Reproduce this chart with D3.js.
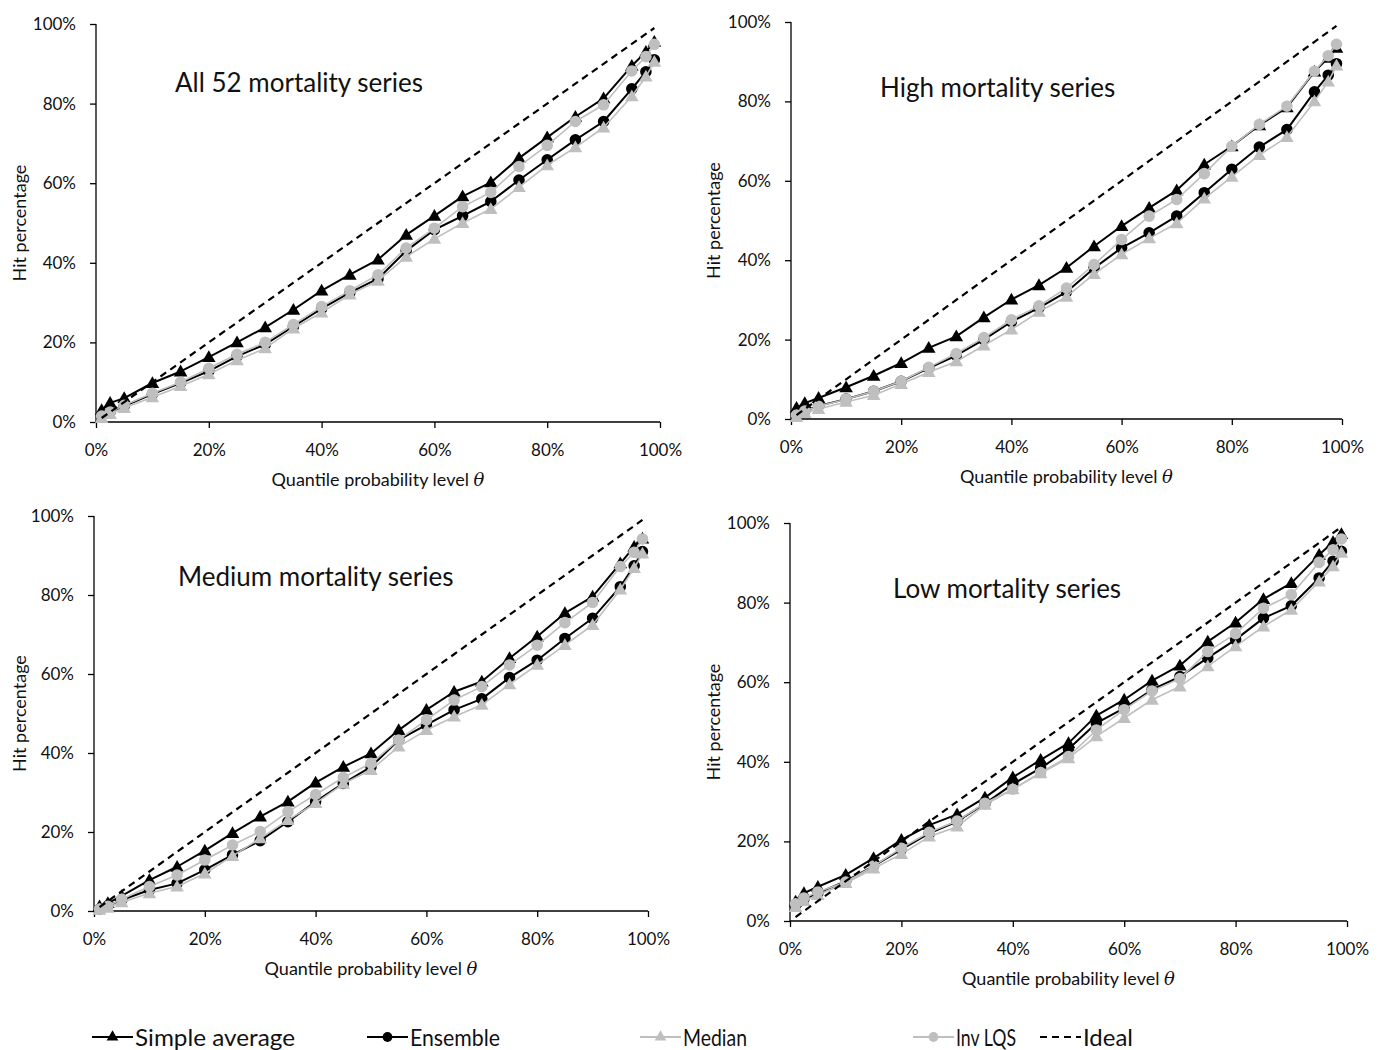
<!DOCTYPE html>
<html><head><meta charset="utf-8">
<script src="https://cdn.jsdelivr.net/npm/d3@7"></script>
<style>
body{margin:0;background:#fff;}
svg{display:block;font-family:Lato,"Open Sans",sans-serif;}
</style></head>
<body><svg id="c" width="1386" height="1050"></svg>
<script>
const theta = [1, 2.5, 5, 10, 15, 20, 25, 30, 35, 40, 45, 50, 55, 60, 65, 70, 75, 80, 85, 90, 95, 97.5, 99];
const xTicks = [0, 20, 40, 60, 80, 100];
const yTicks = [0, 20, 40, 60, 80, 100];
const seriesNames = ["Simple average", "Ensemble", "Median", "Inv LQS", "Ideal"];
const panelTitles = ["All 52 mortality series", "High mortality series", "Medium mortality series", "Low mortality series"];

// All 52 mortality series
const allSimple   = [3, 4.8, 6, 9.8, 12.7, 16.3, 20, 23.8, 28.2, 33, 37, 40.8, 47, 51.8, 56.7, 60.2, 66.3, 71.5, 76.7, 81.3, 89.5, 93, 95.5];
const allEnsemble = [1.5, 2.5, 4, 7, 9.8, 12.8, 16.5, 19.5, 24, 28.5, 32.5, 36, 43, 48.3, 51.8, 55.4, 60.8, 65.9, 70.9, 75.5, 83.7, 88, 91];
const allMedian   = [1, 2, 3.5, 6.2, 9, 12, 15.5, 18.5, 23.5, 27.5, 32, 35.5, 41.5, 46, 50, 53.5, 59, 64.5, 69, 74, 81.8, 86.8, 90.5];
const allInvLQS   = [1.5, 2.5, 4.2, 7.2, 10, 13.5, 17, 20, 24.5, 29, 33, 37, 43.7, 48.7, 54.1, 57.7, 64.2, 69.5, 75.5, 79.7, 88.2, 91.8, 94.9];

// High mortality series
const highSimple   = [2.8, 4, 5.3, 8, 10.9, 14.1, 17.9, 20.8, 25.6, 30.1, 33.7, 38.1, 43.5, 48.6, 53.2, 57.6, 64.1, 68.7, 74, 78.5, 87.5, 91, 93.5];
const highEnsemble = [1, 2, 3.3, 5, 7, 9.5, 12.8, 16, 20, 24.5, 28, 32, 38, 43.1, 46.9, 51.1, 57, 62.9, 68.5, 72.9, 82.4, 86.6, 89.5];
const highMedian   = [0.5, 1.5, 2.5, 4.3, 6, 8.8, 11.8, 14.5, 18.5, 22.5, 27, 30.8, 36.5, 41.5, 45.5, 49.3, 55.5, 61, 66.5, 71, 80, 85, 89];
const highInvLQS   = [1, 2, 3.2, 5, 7, 9.5, 13, 16.5, 20.5, 25, 28.5, 33, 38.9, 45.2, 51.1, 55.3, 61.8, 68.7, 74.2, 78.8, 87.6, 91.5, 94.4];

// Medium mortality series
const medSimple   = [1.2, 2, 3.8, 7.8, 11.2, 15.3, 19.7, 23.9, 27.7, 32.5, 36.5, 39.9, 45.8, 50.9, 55.5, 58.1, 64, 69.5, 75.4, 79.6, 88, 92.2, 94.3];
const medEnsemble = [0.5, 1.3, 2.8, 5.3, 7, 10.4, 14.2, 17.8, 22.6, 27.7, 32.3, 36.5, 43.3, 47.1, 50.9, 53.7, 59.1, 63.5, 69, 74.1, 82.1, 87.4, 91];
const medMedian   = [0.3, 0.8, 2.2, 4.5, 6.2, 9.5, 13.9, 18.4, 23, 27.3, 32.2, 35.7, 41.6, 45.8, 49.2, 52.2, 57.4, 62.3, 67.3, 72.4, 81.4, 86.8, 90.5];
const medInvLQS   = [0.5, 1.2, 3, 6.2, 9.1, 12.9, 16.7, 20.1, 25.1, 29.5, 33.8, 37.4, 43.3, 48.4, 53.4, 56.8, 62.3, 67.3, 73, 78.1, 87.2, 90.8, 94.2];

// Low mortality series
const lowSimple   = [4.9, 7, 8.6, 11.6, 15.8, 20.4, 24.1, 26.8, 31, 36.1, 40.5, 44.7, 51.6, 55.6, 60.4, 64.2, 70.2, 75, 80.9, 84.9, 92, 95.2, 97.2];
const lowEnsemble = [4, 5.5, 7, 10, 13.8, 18, 22, 25, 29.5, 34.4, 38.4, 43.2, 49.7, 53.5, 58.1, 61.4, 66.1, 70.7, 76.1, 79.2, 86.2, 90.4, 92.9];
const lowMedian   = [3.5, 5, 6.5, 9.5, 13.2, 16.8, 21.2, 23.7, 29.2, 33.1, 37.1, 40.9, 46.4, 51, 55.6, 58.9, 64, 69, 74, 78.2, 85.3, 89.1, 92.5];
const lowInvLQS   = [4.3, 5.8, 7.3, 9.8, 13.8, 18.3, 22.3, 25.1, 29.6, 33.1, 37.3, 41.3, 48, 53.1, 57.8, 60.9, 67.7, 72.2, 78.6, 82, 90.1, 93.3, 96];

const panelData = [
  [allSimple, allEnsemble, allMedian, allInvLQS],
  [highSimple, highEnsemble, highMedian, highInvLQS],
  [medSimple, medEnsemble, medMedian, medInvLQS],
  [lowSimple, lowEnsemble, lowMedian, lowInvLQS]
];

// layout
const panels = [
  {x0: 96,  x1: 660,  y0: 422, y1: 24,  tx: 175, ty: 92,  yl: 20},
  {x0: 791, x1: 1342, y0: 419, y1: 22,  tx: 880, ty: 97,  yl: 714},
  {x0: 94,  x1: 648,  y0: 911, y1: 516, tx: 178, ty: 586, yl: 20},
  {x0: 790, x1: 1347, y0: 921, y1: 523, tx: 893, ty: 598, yl: 714}
];
const GRAY = "#bfbfbf";
const styles = [
  {color: "#000", marker: "tri", width: 2},
  {color: "#000", marker: "circ", width: 2},
  {color: GRAY, marker: "tri", width: 1.6},
  {color: GRAY, marker: "circ", width: 1.6}
];
const triSym = d3.symbol().type(d3.symbolTriangle).size(80);
const circSym = d3.symbol().type(d3.symbolCircle).size(105);
const legTri = d3.symbol().type(d3.symbolTriangle).size(60);
const legCirc = d3.symbol().type(d3.symbolCircle).size(75);

const svg = d3.select("#c");
const fmt = d => d + "%";

panels.forEach((p, i) => {
  const x = d3.scaleLinear().domain([0, 100]).range([p.x0, p.x1]);
  const y = d3.scaleLinear().domain([0, 100]).range([p.y0, p.y1]);
  const g = svg.append("g");

  const ax = g.append("g").attr("transform", `translate(0,${p.y0})`)
    .call(d3.axisBottom(x).tickValues(xTicks).tickFormat(fmt).tickSize(6).tickPadding(16));
  const ay = g.append("g").attr("transform", `translate(${p.x0},0)`)
    .call(d3.axisLeft(y).tickValues(yTicks).tickFormat(fmt).tickSize(6).tickPadding(14));
  [ax, ay].forEach(a => {
    a.select(".domain").attr("stroke", "#000").attr("stroke-width", 1.3);
    a.selectAll(".tick line").attr("stroke", "#000").attr("stroke-width", 1.3);
    a.selectAll(".tick text").attr("font-size", 17).attr("fill", "#111").attr("font-family", "Lato");
  });
  ay.select(".domain").attr("d", `M0,${p.y0}V${p.y1}`);
  ax.select(".domain").attr("d", `M${p.x0},0H${p.x1}`);

  const xt = g.append("text").attr("x", (p.x0 + p.x1) / 2).attr("y", p.y0 + 64)
    .attr("text-anchor", "middle").attr("font-size", 18).attr("fill", "#111");
  xt.append("tspan").text("Quantile probability level ");
  xt.append("tspan").attr("font-family", "DejaVu Serif").attr("font-style", "italic").text("θ");

  g.append("text").attr("transform", `translate(${p.yl},${(p.y0 + p.y1) / 2}) rotate(-90)`)
    .attr("text-anchor", "middle").attr("dy", "0.35em").attr("font-size", 18).attr("fill", "#111")
    .text("Hit percentage");

  g.append("text").attr("x", p.tx).attr("y", p.ty).attr("font-size", 26).attr("fill", "#111")
    .text(panelTitles[i]);

  const line = d3.line().x((d, k) => x(theta[k])).y(d => y(d));
  panelData[i].forEach((vals, s) => {
    const st = styles[s];
    g.append("path").datum(vals).attr("d", line).attr("fill", "none")
      .attr("stroke", st.color).attr("stroke-width", st.width).attr("stroke-linejoin", "round");
    g.selectAll(null).data(vals).enter().append("path")
      .attr("d", st.marker === "tri" ? triSym : circSym)
      .attr("transform", (d, k) => `translate(${x(theta[k])},${y(d) + (st.marker === "tri" ? 1 : 0)})`)
      .attr("fill", st.color);
  });
  g.append("path").datum(theta).attr("d", d3.line().x(d => x(d)).y(d => y(d)))
    .attr("fill", "none").attr("stroke", "#000").attr("stroke-width", 2.2).attr("stroke-dasharray", "7,5");
});

// legend
const legX = [92, 367, 640, 913, 1040];
const legW = [160, 90, 64, 60, 50];
const legY = 1037;
seriesNames.forEach((name, s) => {
  const lg = svg.append("g");
  const x0 = legX[s];
  if (s < 4) {
    const st = styles[s];
    lg.append("line").attr("x1", x0).attr("x2", x0 + 41).attr("y1", legY).attr("y2", legY)
      .attr("stroke", st.color).attr("stroke-width", 2);
    lg.append("path").attr("d", st.marker === "tri" ? legTri : legCirc)
      .attr("transform", `translate(${x0 + 20.5},${legY})`).attr("fill", st.color);
  } else {
    lg.append("line").attr("x1", x0).attr("x2", x0 + 41).attr("y1", legY).attr("y2", legY)
      .attr("stroke", "#000").attr("stroke-width", 2).attr("stroke-dasharray", "7,5");
  }
  lg.append("text").attr("x", x0 + 43).attr("y", legY + 9).attr("font-size", 24).attr("fill", "#111")
    .attr("textLength", legW[s]).attr("lengthAdjust", "spacingAndGlyphs").text(name);
});
</script></body></html>
